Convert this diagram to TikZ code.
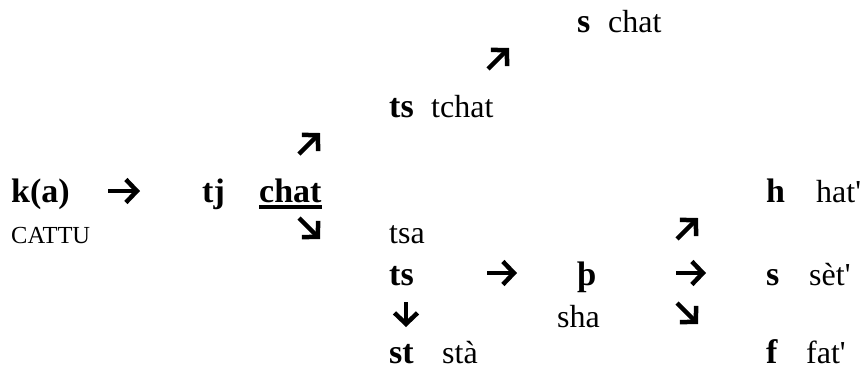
\documentclass[tikz,border=0pt]{standalone}
\usepackage{fontspec}
\newfontfamily\timesrm{Liberation Serif}
\usetikzlibrary{arrows.meta}
\tikzset{
  phon/.style={anchor=base west, inner sep=0pt, font=\timesrm\bfseries\fontsize{34}{40}\selectfont},
  word/.style={anchor=base west, inner sep=0pt, font=\timesrm\fontsize{32}{38}\selectfont},
  etym/.style={anchor=base west, inner sep=0pt, font=\timesrm\fontsize{24.5}{28}\selectfont},
  soundshift/.style={line width=4.5pt, -{Straight Barb[length=11pt,width=23pt]}}
}
\begin{document}
\begin{tikzpicture}[x=1pt,y=-1pt]
		\useasboundingbox (0,0) rectangle (862,376);
		
		% top branch
		\node [phon] (sA) at (577,32) {s};
		\node [word] (chatA) at (608,32) {chat};
		\node [phon] (tsB) at (389,117) {ts};
		\node [word] (tchat) at (431,117) {tchat};
		
		% main line
		\node [phon] (ka) at (11,202) {k(a)};
		\node [etym] (cattu) at (11,243) {CATTU};
		\node [phon] (tj) at (202,202) {tj};
		\node [phon] (chat) at (259,202) {chat};
		\draw [line width=3.4pt] ([yshift=-5pt]chat.base west) -- ([yshift=-5pt]chat.base east);
		
		% lower branch
		\node [word] (tsa) at (389,243) {tsa};
		\node [phon] (tsE) at (389,285) {ts};
		\node [phon] (thorn) at (577,285) {þ};
		\node [word] (sha) at (557,327) {sha};
		\node [phon] (st) at (389,363) {st};
		\node [word] (sta) at (442,363) {stà};
		
		% endings
		\node [phon] (h) at (766,202) {h};
		\node [word] (hat) at (816,202) {hat'};
		\node [phon] (sE) at (766,285) {s};
		\node [word] (set) at (809,285) {sèt'};
		\node [phon] (f) at (766,363) {f};
		\node [word] (fat) at (806,363) {fat'};
		
		% arrows
		\foreach \n/\xa/\ya/\xb/\yb in {a1/108/191/140/191, a2/299/154/320/133,
				a3/299/218/320/239, a4/488/69/509/48, a5/487/273/517/273,
				a6/676/273/706/273, a7/677/239/698/218, a8/406/302/406/327,
				a9/677/303/698/324}
			\draw [soundshift] (\xa,\ya) coordinate (\n s) -- (\xb,\yb) coordinate (\n e);
	\end{tikzpicture}
\end{document}
